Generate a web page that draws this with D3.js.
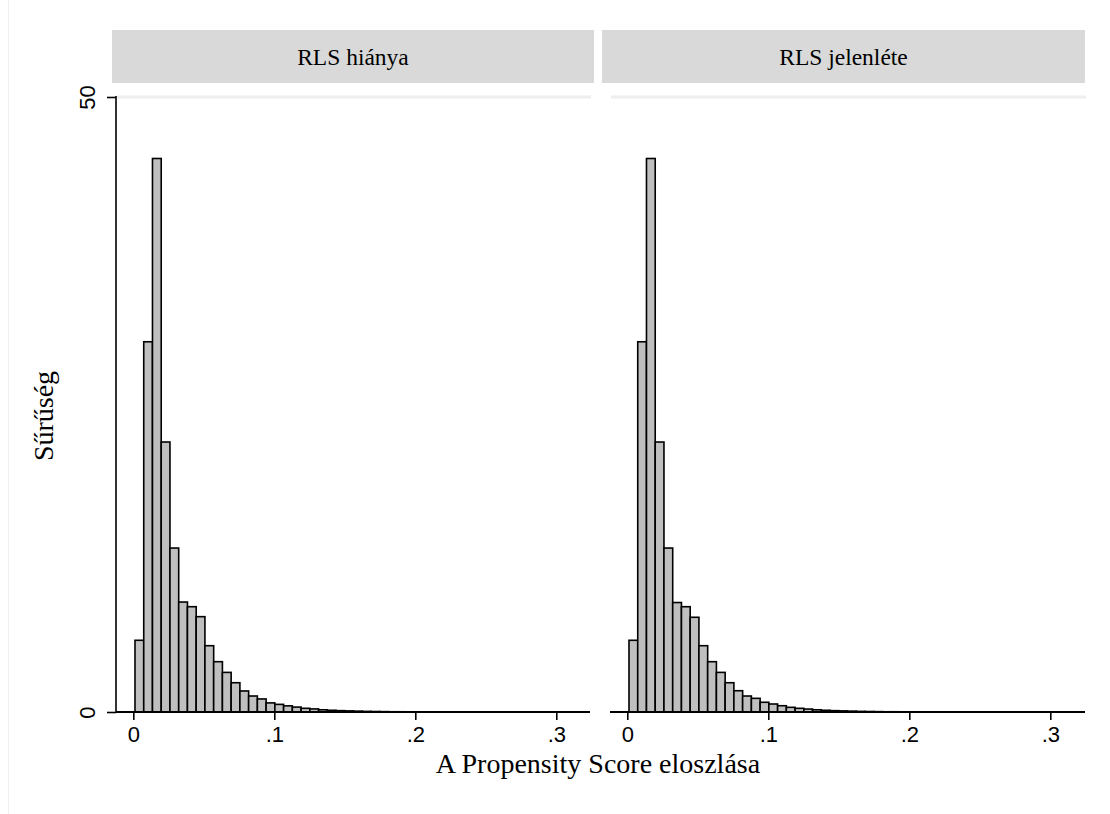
<!DOCTYPE html>
<html>
<head>
<meta charset="utf-8">
<script src="https://cdn.jsdelivr.net/npm/d3@7"></script>
<style>
  html, body { margin: 0; padding: 0; background: #fff; }
  svg { display: block; }
</style>
</head>
<body>
<svg id="chart" width="1110" height="814"></svg>
<script>
// ---- data ----
const panels = ["RLS hiánya", "RLS jelenléte"];
const binStart = 0.0012;
const binWidth = 0.0062;
const densityAbsent = [5.83, 30.1, 45.0, 21.95, 13.33, 8.94, 8.56, 7.75, 5.39, 4.09, 3.22, 2.38, 1.71, 1.30, 1.06, 0.74, 0.62, 0.50, 0.40, 0.30, 0.25, 0.18, 0.14, 0.11, 0.09, 0.07, 0.05, 0.04, 0.03, 0.02, 0.02, 0.01];
const densityPresent = [5.83, 30.1, 45.0, 21.95, 13.33, 8.90, 8.56, 7.70, 5.39, 4.09, 3.22, 2.38, 1.73, 1.30, 1.11, 0.79, 0.65, 0.51, 0.38, 0.30, 0.24, 0.18, 0.14, 0.11, 0.09, 0.07, 0.05, 0.04, 0.03, 0.02, 0.02, 0.01, 0.01];
const xTicks = [0, 0.1, 0.2, 0.3];
const xTickLabels = ["0", ".1", ".2", ".3"];
const yTicks = [0, 50];
const yTickLabels = ["0", "50"];
const xTitle = "A Propensity Score eloszlása";
const yTitle = "Sűrűség";

// ---- layout ----
const svg = d3.select("#chart");
const serif = "'Liberation Serif', 'Times New Roman', serif";
const sans = "'Liberation Sans', Arial, sans-serif";

// faint outer border line
svg.append("line").attr("x1", 8.5).attr("x2", 8.5).attr("y1", 0).attr("y2", 814)
  .attr("stroke", "#f0f0f0").attr("stroke-width", 1);

const y = d3.scaleLinear().domain([0, 50]).range([712, 97]);

const panelDefs = [
  { name: panels[0], data: densityAbsent, plotL: 116, plotR: 590, x0: 133.3, hdrL: 112, hdrR: 594, yAxis: true },
  { name: panels[1], data: densityPresent, plotL: 610, plotR: 1085, x0: 627.3, hdrL: 602, hdrR: 1085, yAxis: false }
];

panelDefs.forEach(p => {
  const x = d3.scaleLinear().domain([0, 0.3]).range([p.x0, p.x0 + 423]);
  const g = svg.append("g");

  // header
  g.append("rect").attr("x", p.hdrL).attr("y", 30).attr("width", p.hdrR - p.hdrL).attr("height", 53)
    .attr("fill", "#d9d9d9");
  g.append("text").attr("x", (p.hdrL + p.hdrR) / 2).attr("y", 65)
    .attr("text-anchor", "middle").attr("font-family", serif).attr("font-size", 23.5)
    .attr("fill", "#000").text(p.name);

  // gridline at 50
  g.append("line").attr("x1", p.plotL + 1).attr("x2", p.plotR + 1)
    .attr("y1", y(50)).attr("y2", y(50))
    .attr("stroke", "#eeeeee").attr("stroke-width", 3);

  // bars
  g.selectAll("rect.bar").data(p.data).join("rect")
    .attr("class", "bar")
    .attr("x", (d, i) => x(binStart + i * binWidth))
    .attr("width", (d, i) => x(binStart + (i + 1) * binWidth) - x(binStart + i * binWidth))
    .attr("y", d => y(d))
    .attr("height", d => y(0) - y(d))
    .attr("fill", "#bfbfbf").attr("stroke", "#000").attr("stroke-width", 1.6);

  // x axis
  const xAxis = d3.axisBottom(x).tickValues(xTicks).tickSize(8)
    .tickFormat((d, i) => xTickLabels[i]);
  const ga = g.append("g").attr("transform", `translate(0,${y(0)})`).call(xAxis);
  ga.select(".domain").remove();
  ga.append("line").attr("x1", p.plotL).attr("x2", p.plotR).attr("y1", 0).attr("y2", 0)
    .attr("stroke", "#000").attr("stroke-width", 2);
  ga.selectAll(".tick line").attr("stroke", "#000").attr("stroke-width", 1.6);
  ga.selectAll(".tick text").attr("font-family", sans).attr("font-size", 22)
    .attr("fill", "#000").attr("y", 14).attr("dy", "0.71em");

  if (p.yAxis) {
    const yAxis = d3.axisLeft(y).tickValues(yTicks).tickSize(9)
      .tickFormat((d, i) => yTickLabels[i]);
    const gy = g.append("g").attr("transform", `translate(${p.plotL},0)`).call(yAxis);
    gy.select(".domain").remove();
    gy.append("line").attr("x1", 0).attr("x2", 0).attr("y1", y(0) + 1).attr("y2", y(50) - 1)
      .attr("stroke", "#000").attr("stroke-width", 1.6);
    gy.selectAll(".tick line").attr("stroke", "#000").attr("stroke-width", 1.6);
    gy.selectAll(".tick text").remove();
    gy.selectAll(".tick").append("text")
      .attr("transform", "translate(-21,0) rotate(-90)")
      .attr("text-anchor", "middle").attr("font-family", sans).attr("font-size", 22)
      .attr("fill", "#000").text((d, i) => yTickLabels[i]);
  }
});

// axis titles
svg.append("text").attr("x", 598).attr("y", 773).attr("text-anchor", "middle")
  .attr("font-family", serif).attr("font-size", 28).attr("fill", "#000").text(xTitle);
svg.append("text").attr("transform", "translate(53,416) rotate(-90)").attr("text-anchor", "middle")
  .attr("font-family", serif).attr("font-size", 28).attr("fill", "#000").text(yTitle);
</script>
</body>
</html>
